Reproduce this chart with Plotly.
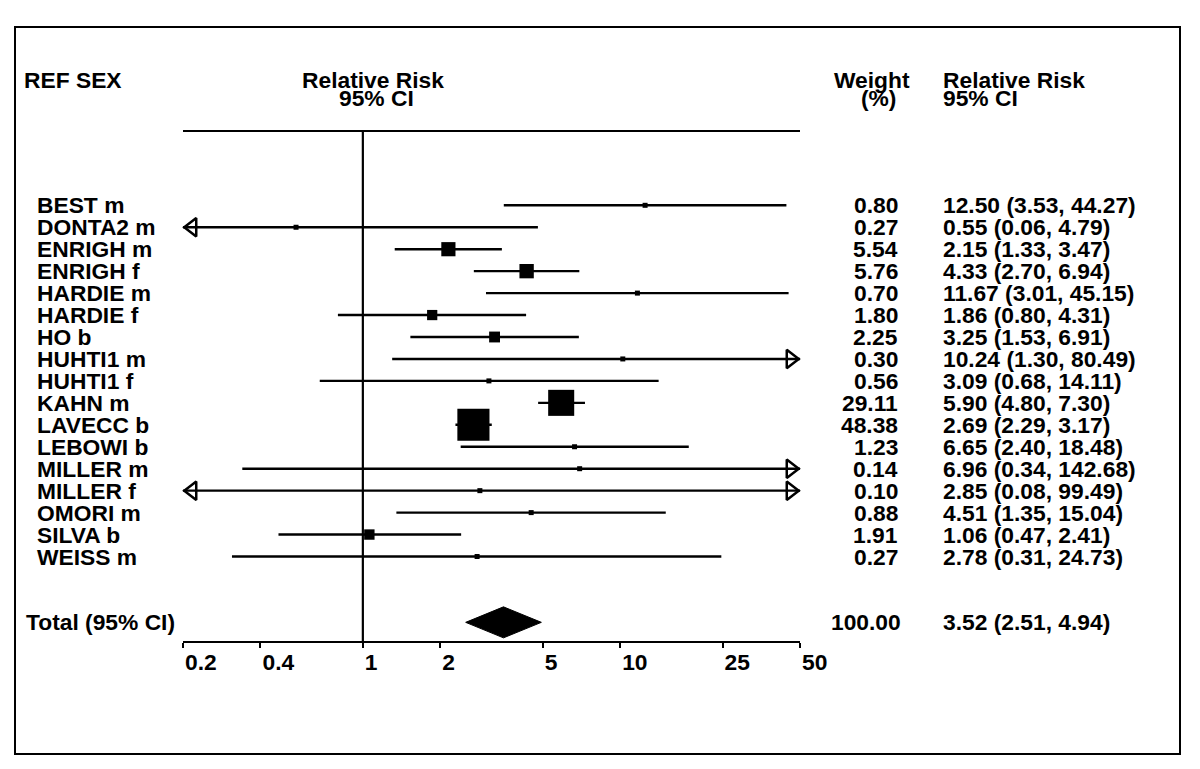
import math
import plotly.graph_objects as go

# ---------------- data ----------------
studies = ["BEST m", "DONTA2 m", "ENRIGH m", "ENRIGH f", "HARDIE m", "HARDIE f", "HO b",
           "HUHTI1 m", "HUHTI1 f", "KAHN m", "LAVECC b", "LEBOWI b", "MILLER m",
           "MILLER f", "OMORI m", "SILVA b", "WEISS m"]
weights = [0.80, 0.27, 5.54, 5.76, 0.70, 1.80, 2.25, 0.30, 0.56, 29.11, 48.38, 1.23,
           0.14, 0.10, 0.88, 1.91, 0.27]
rr = [12.50, 0.55, 2.15, 4.33, 11.67, 1.86, 3.25, 10.24, 3.09, 5.90, 2.69, 6.65,
      6.96, 2.85, 4.51, 1.06, 2.78]
ci_low = [3.53, 0.06, 1.33, 2.70, 3.01, 0.80, 1.53, 1.30, 0.68, 4.80, 2.29, 2.40,
          0.34, 0.08, 1.35, 0.47, 0.31]
ci_high = [44.27, 4.79, 3.47, 6.94, 45.15, 4.31, 6.91, 80.49, 14.11, 7.30, 3.17, 18.48,
           142.68, 99.49, 15.04, 2.41, 24.73]
total_label = "Total (95% CI)"
total_weight = 100.00
total_rr = 3.52
total_low = 2.51
total_high = 4.94
tick_values = [0.2, 0.4, 1, 2, 5, 10, 25, 50]
tick_labels = ["0.2", "0.4", "1", "2", "5", "10", "25", "50"]
x_min, x_max = 0.2, 50

# ---------------- layout geometry (page pixels) ----------------
OFF = 8                     # default page body margin
W, H = 1200 - OFF, 769 - OFF
PL, PR = 183, 800           # plot area left/right (page px)
PT, PB = 132, 641           # plot area top/bottom (page px)
ROW0, PITCH = 205.3, 21.95  # first row centre, row pitch
TOTAL_ROW = len(studies) + 2

def px2x(px):
    return (px - PL) / (PR - PL)

def px2y(py):
    return (PB - py) / (PB - PT)

yrange = [(PB - ROW0) / PITCH, (PT - ROW0) / PITCH]
decade_px = (PR - PL) / (math.log10(x_max) - math.log10(x_min))

FONT = dict(family="Liberation Sans, Arial, sans-serif", size=22.8, color="black", weight="bold")

rows = list(range(len(studies)))

fig = go.Figure()

# CI lines (clipped to axis)
lx, ly = [], []
for i in rows:
    lx += [max(ci_low[i], x_min), min(ci_high[i], x_max), None]
    ly += [i, i, None]
fig.add_trace(go.Scatter(x=lx, y=ly, mode="lines", line=dict(color="black", width=2.4),
                         hoverinfo="skip", showlegend=False))

# null line at RR = 1
fig.add_trace(go.Scatter(x=[1, 1], y=yrange, mode="lines", line=dict(color="black", width=2.2),
                         hoverinfo="skip", showlegend=False, cliponaxis=False))

# arrowheads for clipped intervals
ARROW = 16
tip_off = (ARROW / 2) * 2 / math.sqrt(3)
fac = 10 ** (tip_off / decade_px)
ax_l = [x_min * fac for i in rows if ci_low[i] < x_min]
ay_l = [i for i in rows if ci_low[i] < x_min]
ax_r = [x_max / fac for i in rows if ci_high[i] > x_max]
ay_r = [i for i in rows if ci_high[i] > x_max]
fig.add_trace(go.Scatter(x=ax_l, y=ay_l, mode="markers", cliponaxis=False,
                         marker=dict(symbol="triangle-left-open", size=ARROW, color="black",
                                     opacity=1, line=dict(width=2.5, color="black")),
                         hoverinfo="skip", showlegend=False))
fig.add_trace(go.Scatter(x=ax_r, y=ay_r, mode="markers", cliponaxis=False,
                         marker=dict(symbol="triangle-right-open", size=ARROW, color="black",
                                     opacity=1, line=dict(width=2.5, color="black")),
                         hoverinfo="skip", showlegend=False))

# point estimates, sized by weight
sizes = [5 if w < 1.5 else 3.9 * math.sqrt(w) + 5 for w in weights]
fig.add_trace(go.Scatter(x=rr, y=rows, mode="markers",
                         marker=dict(symbol="square", size=sizes, color="black", opacity=1,
                                     line=dict(width=0)),
                         hoverinfo="skip", showlegend=False))

# pooled diamond
dh = 15.5 / PITCH
fig.add_trace(go.Scatter(x=[total_low, total_rr, total_high, total_rr, total_low],
                         y=[TOTAL_ROW, TOTAL_ROW - dh, TOTAL_ROW, TOTAL_ROW + dh, TOTAL_ROW],
                         mode="lines", fill="toself", fillcolor="black",
                         line=dict(color="black", width=1), hoverinfo="skip", showlegend=False))

annotations = []

def ann(text, xpx, y, xanchor="left", yref="y"):
    annotations.append(dict(text=text, x=px2x(xpx), y=y, xref="paper", yref=yref,
                            xanchor=xanchor, yanchor="middle", showarrow=False, font=FONT))

# headers
ann("REF SEX", 22, px2y(80), yref="paper")
ann("Relative Risk", 373, px2y(80), xanchor="center", yref="paper")
ann("95% CI", 376, px2y(98), xanchor="center", yref="paper")
ann("Weight", 872, px2y(80), xanchor="center", yref="paper")
ann("(%)", 879, px2y(98), xanchor="center", yref="paper")
ann("Relative Risk", 941, px2y(80), yref="paper")
ann("95% CI", 941, px2y(98), yref="paper")

for i in rows:
    ann(studies[i], 35, i)
    ann(f"{weights[i]:.2f}", 900, i, xanchor="right")
    ann(f"{rr[i]:.2f} ({ci_low[i]:.2f}, {ci_high[i]:.2f})", 941, i)

ann(total_label, 24, TOTAL_ROW)
ann(f"{total_weight:.2f}", 903, TOTAL_ROW, xanchor="right")
ann(f"{total_rr:.2f} ({total_low:.2f}, {total_high:.2f})", 941, TOTAL_ROW)

fig.update_layout(
    width=W, height=H,
    margin=dict(l=PL - OFF, r=W - (PR - OFF), t=PT - OFF, b=H - (PB - OFF), pad=0),
    paper_bgcolor="white", plot_bgcolor="white",
    showlegend=False,
    annotations=annotations,
    shapes=[dict(type="rect", xref="paper", yref="paper",
                 x0=px2x(15), x1=px2x(1180), y0=px2y(754), y1=px2y(27),
                 line=dict(color="black", width=2), fillcolor="rgba(0,0,0,0)")],
    xaxis=dict(type="log", range=[math.log10(x_min), math.log10(x_max)],
               tickvals=tick_values, ticktext=tick_labels,
               ticks="outside", ticklen=5, tickwidth=2, tickcolor="black",
               ticklabelposition="outside right",
               showline=True, linecolor="black", linewidth=2, mirror=True,
               showgrid=False, zeroline=False, tickfont=FONT, fixedrange=True),
    yaxis=dict(range=yrange, visible=False, showgrid=False, zeroline=False, fixedrange=True),
)

fig.write_html("out.html")
